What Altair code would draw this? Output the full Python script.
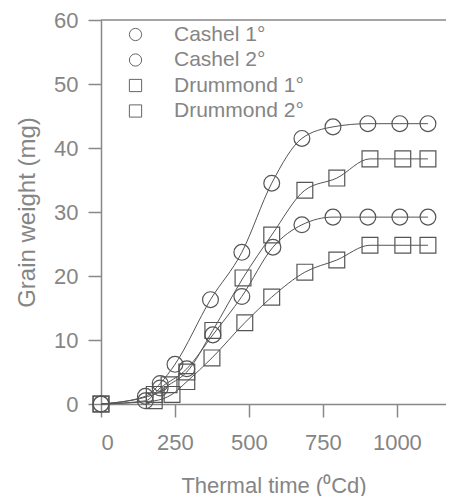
import altair as alt
import pandas as pd

series_names = ["Cashel 1°", "Cashel 2°", "Drummond 1°", "Drummond 2°"]

x_cashel1 = [0, 150, 200, 250, 370, 476, 577, 679, 784, 902, 1010, 1105]
y_cashel1 = [0, 1.2, 3.2, 6.2, 16.3, 23.7, 34.5, 41.5, 43.3, 43.8, 43.8, 43.8]

x_cashel2 = [0, 150, 200, 290, 378, 476, 581, 679, 784, 902, 1010, 1105]
y_cashel2 = [0, 0.5, 2.5, 5.5, 10.8, 16.8, 24.5, 28.0, 29.2, 29.2, 29.2, 29.2]

x_drum1 = [0, 180, 230, 290, 378, 480, 577, 689, 797, 909, 1020, 1105]
y_drum1 = [0, 1.5, 3.0, 5.0, 11.5, 19.7, 26.4, 33.4, 35.3, 38.3, 38.3, 38.3]

x_drum2 = [0, 180, 240, 290, 375, 486, 577, 689, 797, 909, 1020, 1105]
y_drum2 = [0, 0.5, 1.5, 3.5, 7.2, 12.7, 16.7, 20.6, 22.5, 24.8, 24.8, 24.8]

x_ticks = [0, 250, 500, 750, 1000]
y_ticks = [0, 10, 20, 30, 40, 50, 60]

rows = []
for name, xs, ys in zip(series_names,
                        [x_cashel1, x_cashel2, x_drum1, x_drum2],
                        [y_cashel1, y_cashel2, y_drum1, y_drum2]):
    for xv, yv in zip(xs, ys):
        rows.append({"series": name, "tt": xv, "gw": yv})
df = pd.DataFrame(rows)

W, H = 345, 384
TXT = "#858585"
LINE = "#555555"

xenc = alt.X("tt:Q", scale=alt.Scale(domain=[0, 1166], nice=False, zero=False),
             axis=alt.Axis(values=x_ticks, title="Thermal time (⁰Cd)", grid=False,
                           tickSize=13, labelPadding=15, titlePadding=22, format="d"))
yenc = alt.Y("gw:Q", scale=alt.Scale(domain=[0, 60], nice=False),
             axis=alt.Axis(values=y_ticks, title="Grain weight (mg)", grid=False,
                           tickSize=13, labelPadding=10, titlePadding=14,
                           titleFontSize=24))

base = alt.Chart(df)

lines = base.mark_line(color=LINE, strokeWidth=1, interpolate="monotone").encode(
    x=xenc, y=yenc, detail="series:N"
)

points = base.mark_point(filled=False, stroke=LINE, strokeWidth=1.2, size=250, opacity=1).encode(
    x=xenc, y=yenc,
    shape=alt.Shape("series:N",
                    scale=alt.Scale(domain=series_names,
                                    range=["circle", "circle", "square", "square"]),
                    legend=alt.Legend(title=None, orient="none", legendX=24, legendY=4,
                                      labelFontSize=21, labelColor=TXT, labelFont="Liberation Sans",
                                      symbolSize=150, symbolStrokeColor="#666666",
                                      symbolFillColor="white", symbolStrokeWidth=1,
                                      rowPadding=3.5, labelOffset=28)),
)

top_rule = alt.Chart(pd.DataFrame({"v": [60]})).mark_rule(color="#888888", strokeWidth=1.5).encode(
    y=alt.Y("v:Q", scale=alt.Scale(domain=[0, 60], nice=False)),
    x=alt.value(0), x2=alt.value(W)
)

chart = alt.layer(top_rule, lines, points).properties(
    width=W, height=H,
    autosize=alt.AutoSizeParams(type="none"),
    padding={"left": 93, "top": 12, "right": 0, "bottom": 92},
).configure_view(stroke=None).configure_axis(
    labelFont="Liberation Sans", titleFont="Liberation Sans",
    labelFontSize=22, titleFontSize=22, labelColor=TXT, titleColor=TXT,
    titleFontWeight="normal", domainColor="#888888", tickColor="#888888",
    domainWidth=1.5, tickWidth=1.5,
)

chart.save("out.html", embed_options={"renderer": "svg", "actions": False})
